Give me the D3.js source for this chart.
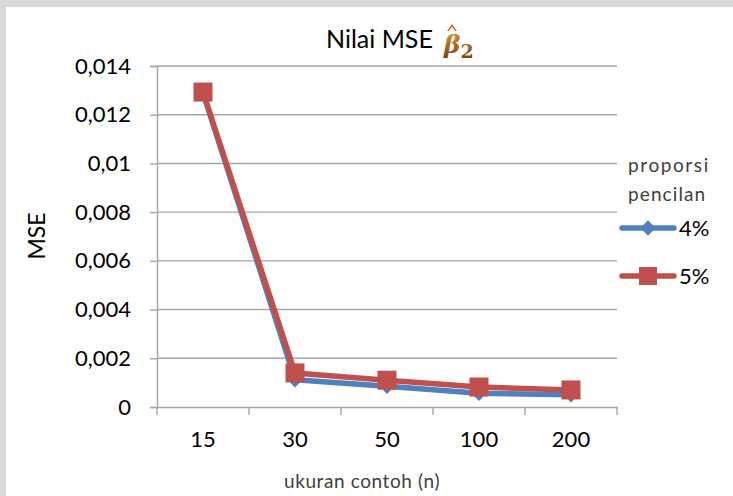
<!DOCTYPE html>
<html>
<head>
<meta charset="utf-8">
<script src="https://cdn.jsdelivr.net/npm/d3@7"></script>
<style>
  body { margin: 0; background: #d9d9d9; }
  svg { display: block; font-family: Lato, "Open Sans", sans-serif; }
</style>
</head>
<body>
<svg id="chart" width="733" height="496"></svg>
<script>
// data
var categories = ["15", "30", "50", "100", "200"];
var mse4 = [0.0129, 0.00112, 0.00085, 0.00056, 0.0005];
var mse5 = [0.01293, 0.0014, 0.0011, 0.00082, 0.0007];
var yTicks = [0, 0.002, 0.004, 0.006, 0.008, 0.01, 0.012, 0.014];
var yTickLabels = ["0", "0,002", "0,004", "0,006", "0,008", "0,01", "0,012", "0,014"];
var seriesNames = ["4%", "5%"];

var svg = d3.select("#chart");

// chart area (white) with the grey page strip at left/top
svg.append("rect").attr("x", 6).attr("y", 7).attr("width", 727).attr("height", 489).attr("fill", "#fff");

var plotL = 157, plotR = 617, plotT = 66, plotB = 407;

var x = d3.scaleBand().domain(categories).range([plotL, plotR]);
var y = d3.scaleLinear().domain([0, 0.014]).range([plotB, plotT]);

var grid = "#a6a6a6";

// gridlines
svg.append("g").selectAll("line")
  .data(yTicks.slice(1))
  .enter().append("line")
  .attr("x1", plotL).attr("x2", plotR)
  .attr("y1", function(d) { return y(d); })
  .attr("y2", function(d) { return y(d); })
  .attr("stroke", grid).attr("stroke-width", 1.4);

// y axis
var yAxis = d3.axisLeft(y).tickValues(yTicks).tickSize(7)
  .tickFormat(function(d, i) { return yTickLabels[i]; });
var gy = svg.append("g").attr("transform", "translate(" + plotL + ",0)").call(yAxis);
gy.select(".domain").attr("stroke", grid).attr("stroke-width", 1.4);
gy.selectAll(".tick line").attr("stroke", grid).attr("stroke-width", 1.4);
gy.selectAll(".tick text").attr("x", -26).attr("font-size", 22).attr("fill", "#000")
  .attr("font-family", "Lato, sans-serif");

// x axis
var xAxis = d3.axisBottom(x).tickSize(0).tickSizeOuter(0);
var gx = svg.append("g").attr("transform", "translate(0," + plotB + ")").call(xAxis);
gx.select(".domain").attr("stroke", grid).attr("stroke-width", 1.4);
gx.selectAll(".tick text").attr("y", 24).attr("font-size", 22).attr("fill", "#000")
  .attr("font-family", "Lato, sans-serif");
// tick marks between categories
var bounds = categories.map(function(c) { return x(c); }).concat([plotR]);
gx.selectAll(".sep").data(bounds).enter().append("line")
  .attr("x1", function(d) { return d; }).attr("x2", function(d) { return d; })
  .attr("y1", 0).attr("y2", 8)
  .attr("stroke", grid).attr("stroke-width", 1.4);

// axis titles
svg.append("text").attr("x", 362).attr("y", 488).attr("text-anchor", "middle")
  .attr("font-size", 19).attr("letter-spacing", 0.6).attr("fill", "#404040").text("ukuran contoh (n)");
svg.append("text").attr("transform", "translate(45,236) rotate(-90)").attr("text-anchor", "middle")
  .attr("font-size", 23).attr("fill", "#000").text("MSE");

// title
var defs = svg.append("defs");
var grad = defs.append("linearGradient").attr("id", "betaGrad").attr("x1", 0).attr("x2", 0).attr("y1", 0).attr("y2", 1);
grad.append("stop").attr("offset", "0%").attr("stop-color", "#e39a3a");
grad.append("stop").attr("offset", "100%").attr("stop-color", "#6b3410");
svg.append("text").attr("x", 326).attr("y", 48).attr("font-size", 25).attr("fill", "#000").text("Nilai MSE");
var beta = svg.append("text").attr("x", 444).attr("y", 53).attr("font-size", 25)
  .attr("font-family", "'DejaVu Serif', serif").attr("font-style", "italic").attr("font-weight", "bold")
  .attr("fill", "url(#betaGrad)");
beta.append("tspan").text("\u03B2");
beta.append("tspan").attr("font-size", 19).attr("dy", 5).attr("font-style", "normal").text("2");
// hat over beta
svg.append("path").attr("d", "M447,31 L452,24 L457,31 L455,31 L452,27 L449,31 Z")
  .attr("fill", "#c47a2a");

// series
var colors = ["#4f81bd", "#c0504d"];
var line = d3.line()
  .x(function(d, i) { return x(categories[i]) + x.bandwidth() / 2; })
  .y(function(d) { return y(d); });

var series = [mse4, mse5];
series.forEach(function(vals, s) {
  svg.append("path").datum(vals).attr("d", line)
    .attr("fill", "none").attr("stroke", colors[s]).attr("stroke-width", 5.5)
    .attr("stroke-linejoin", "round");
});

var diamond = d3.symbol().type(d3.symbolDiamond2).size(150);
svg.append("g").selectAll("path").data(mse4).enter().append("path")
  .attr("d", diamond)
  .attr("transform", function(d, i) { return "translate(" + (x(categories[i]) + x.bandwidth() / 2) + "," + y(d) + ")"; })
  .attr("fill", colors[0]);

svg.append("g").selectAll("rect").data(mse5).enter().append("rect")
  .attr("x", function(d, i) { return x(categories[i]) + x.bandwidth() / 2 - 9.5; })
  .attr("y", function(d) { return y(d) - 9.5; })
  .attr("width", 19).attr("height", 19)
  .attr("fill", colors[1]);

// legend
svg.append("text").attr("x", 628).attr("y", 172).attr("font-size", 19).attr("letter-spacing", 1.6)
  .attr("fill", "#404040").text("proporsi");
svg.append("text").attr("x", 628).attr("y", 201).attr("font-size", 19).attr("letter-spacing", 1.1)
  .attr("fill", "#404040").text("pencilan");

var legY = [228, 276];
seriesNames.forEach(function(name, s) {
  var g = svg.append("g").attr("transform", "translate(0," + legY[s] + ")");
  g.append("line").attr("x1", 622).attr("x2", 674).attr("y1", 0).attr("y2", 0)
    .attr("stroke", colors[s]).attr("stroke-width", 5.5).attr("stroke-linecap", "round");
  if (s === 0) {
    g.append("path").attr("d", diamond).attr("transform", "translate(648,0)").attr("fill", colors[s]);
  } else {
    g.append("rect").attr("x", 639).attr("y", -9).attr("width", 18).attr("height", 18).attr("fill", colors[s]);
  }
  g.append("text").attr("x", 679).attr("y", 0).attr("dy", "0.35em").attr("font-size", 22)
    .attr("fill", "#000").text(name);
});
</script>
</body>
</html>
